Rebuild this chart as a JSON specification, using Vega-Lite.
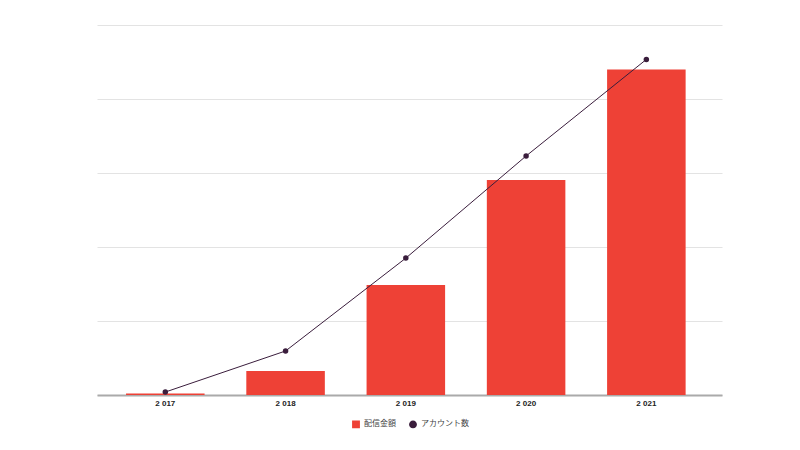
{
  "$schema": "https://vega.github.io/schema/vega-lite/v6.json",
  "width": 625,
  "height": 370,
  "padding": {"left": 97, "top": 25, "right": 78, "bottom": 5},
  "background": "white",
  "data": {"values": [
    {"year": "2 017", "series": "配信金額", "value": 0.4},
    {"year": "2 018", "series": "配信金額", "value": 6.5},
    {"year": "2 019", "series": "配信金額", "value": 29.7},
    {"year": "2 020", "series": "配信金額", "value": 58.1},
    {"year": "2 021", "series": "配信金額", "value": 88.0},
    {"year": "2 017", "series": "アカウント数", "value": 0.8},
    {"year": "2 018", "series": "アカウント数", "value": 11.9},
    {"year": "2 019", "series": "アカウント数", "value": 37.0},
    {"year": "2 020", "series": "アカウント数", "value": 64.6},
    {"year": "2 021", "series": "アカウント数", "value": 90.7}
  ]},
  "encoding": {
    "x": {
      "field": "year", "type": "ordinal", "sort": null, "title": null,
      "scale": {"paddingInner": 0.347, "paddingOuter": 0.272, "align": 0.444},
      "axis": {"labelAngle": 0, "labelFont": "Liberation Sans", "labelFontSize": 8, "labelFontWeight": "bold", "labelColor": "#222", "ticks": false, "domainColor": "#aaaaaa", "domainWidth": 2, "labelPadding": 4}
    },
    "y": {
      "field": "value", "type": "quantitative", "title": null,
      "scale": {"domain": [0, 100], "nice": false},
      "axis": {"labels": false, "ticks": false, "domain": false, "values": [0, 20, 40, 60, 80, 100], "gridColor": "#e3e3e3", "gridWidth": 1}
    },
    "color": {
      "field": "series", "type": "nominal", "title": null,
      "scale": {"domain": ["配信金額", "アカウント数"], "range": ["#ee4136", "#3a1d3c"]},
      "legend": {"orient": "none", "legendX": 255, "legendY": 395, "direction": "horizontal", "labelFont": "Noto Sans CJK JP", "labelFontSize": 8, "labelColor": "#444", "symbolSize": 40, "columnPadding": 10}
    }
  },
  "layer": [
    {
      "transform": [{"filter": "datum.series === '配信金額'"}],
      "mark": {"type": "bar"}
    },
    {
      "transform": [{"filter": "datum.series === 'アカウント数'"}],
      "mark": {"type": "line", "strokeWidth": 1}
    },
    {
      "transform": [{"filter": "datum.series === 'アカウント数'"}],
      "mark": {"type": "point", "filled": true, "size": 30, "opacity": 1},
      "encoding": {
        "shape": {
          "field": "series", "type": "nominal",
          "scale": {"domain": ["配信金額", "アカウント数"], "range": ["square", "circle"]},
          "legend": {"orient": "none", "legendX": 255, "legendY": 395, "direction": "horizontal", "labelFont": "Noto Sans CJK JP", "labelFontSize": 8, "labelColor": "#444", "symbolSize": 40, "columnPadding": 10}
        }
      }
    }
  ],
  "config": {"view": {"stroke": null}}
}
